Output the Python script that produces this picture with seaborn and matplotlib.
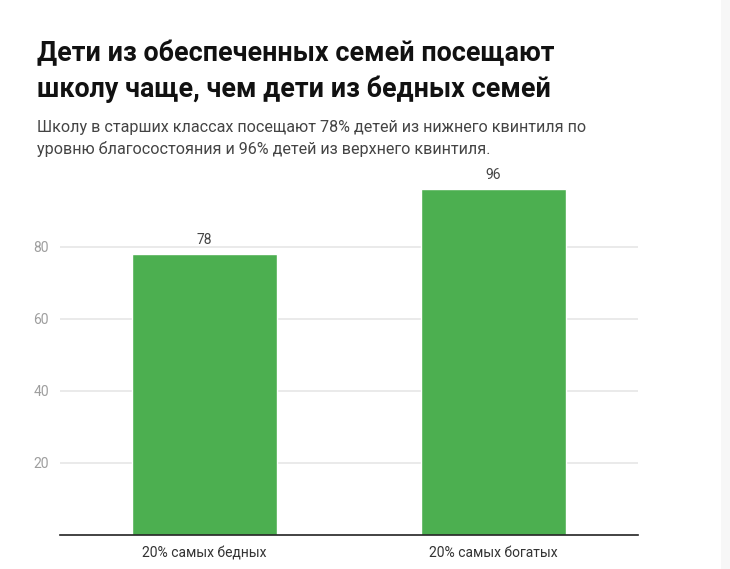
import matplotlib
matplotlib.use("Agg")
import matplotlib.pyplot as plt
import seaborn as sns
import pandas as pd
from matplotlib.patches import Rectangle

categories = ["20% самых бедных", "20% самых богатых"]
values = [78, 96]
yticks = [20, 40, 60, 80]

title = "Дети из обеспеченных семей посещают\nшколу чаще, чем дети из бедных семей"
subtitle = ("Школу в старших классах посещают 78% детей из нижнего квинтиля по\n"
            "уровню благосостояния и 96% детей из верхнего квинтиля.")

sns.set_theme(style="white")
plt.rcParams['font.family'] = ['Roboto', 'DejaVu Sans']

W, H = 730, 569
fig = plt.figure(figsize=(W / 100, H / 100), dpi=100)
fig.patch.set_facecolor("white")
fig.patches.append(Rectangle((721 / W, 0), 9 / W, 1, transform=fig.transFigure,
                             facecolor="#f7f7f7", edgecolor="none", zorder=0))

ax = fig.add_axes([60 / W, 34 / H, 578 / W, 360 / H])
df = pd.DataFrame({"cat": categories, "val": values})
sns.barplot(data=df, x="cat", y="val", color="#4caf50", saturation=1, width=0.5, ax=ax)
ax.set_xlim(-0.5, 1.5)
ax.set_ylim(0, 100)
ax.set_yticks(yticks)
ax.set_xlabel("")
ax.set_ylabel("")
ax.grid(axis="y", color="#e6e6e6", linewidth=1.2)
ax.set_axisbelow(True)
for s in ["top", "right", "left"]:
    ax.spines[s].set_visible(False)
ax.spines["bottom"].set_color("#222222")
ax.spines["bottom"].set_linewidth(1.2)
ax.tick_params(axis="y", length=0, colors="#9e9e9e", labelsize=10, pad=8)
ax.tick_params(axis="x", length=0, colors="#333333", labelsize=10, pad=8)
for c in ax.containers:
    ax.bar_label(c, labels=[str(v) for v in values], padding=5, fontsize=10, color="#444444")

fig.text(37 / W, 1 - 40 / H, title, ha="left", va="top", fontsize=19.4,
         fontweight="bold", color="#111111", linespacing=1.4)
fig.text(37 / W, 1 - 120 / H, subtitle, ha="left", va="top", fontsize=11.6,
         color="#444444", linespacing=1.45)

fig.savefig("out.png", dpi=100, facecolor="white")
